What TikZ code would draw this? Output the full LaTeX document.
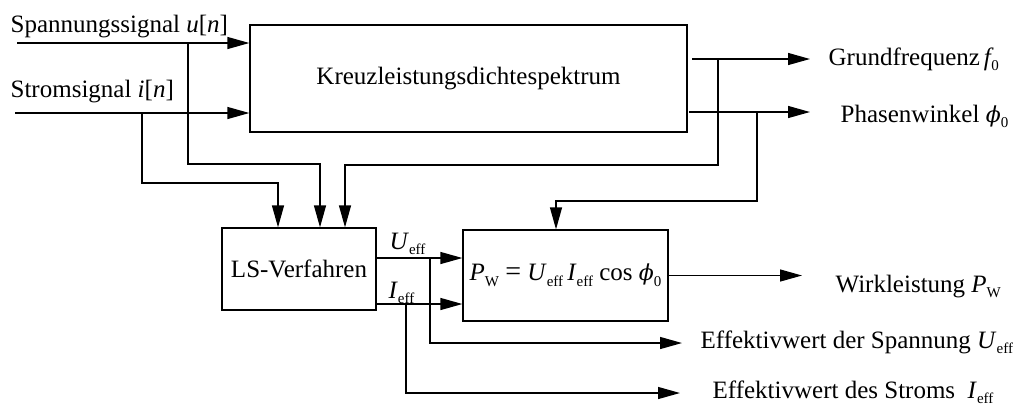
\documentclass[tikz,border=0pt]{standalone}
\usepackage{fontspec}
\setmainfont{Liberation Serif}
\newfontfamily\phifont{DejaVu Serif}
\usetikzlibrary{arrows.meta,calc}
\newcommand{\lsub}[1]{\raisebox{-0.5ex}{\fontsize{7.5}{8}\selectfont #1}}
\newcommand{\vphi}{{\phifont\itshape\fontsize{11}{13}\selectfont ϕ}}
\begin{document}
\begin{tikzpicture}[x=0.5pt,y=-0.5pt,
  line width=0.65pt,
  font=\fontsize{12.5}{15}\selectfont,
  box/.style={draw, line width=0.65pt, inner sep=0pt},
  arr/.style={-{Triangle[length=11pt,width=6pt]}},
  lbl/.style={anchor=base west, inner sep=0pt},
]
\useasboundingbox (0,0) rectangle (1021,409);

% blocks
\node[box, minimum width=218.5pt, minimum height=53.5pt] (kld) at (468.5,78.5) {Kreuzleistungsdichtespektrum};
\node[box, minimum width=77pt, minimum height=41pt] (ls) at (299,269) {LS-Verfahren};
\node[box, minimum width=102.5pt, minimum height=45.5pt] (pw) at (565.5,275.5)
  {\textit{P}\lsub{W} {\fontsize{14}{15}\selectfont =} \textit{U}\lsub{eff}\,\textit{I}\lsub{eff} cos \vphi\lsub{0}};

% inputs
\coordinate (u0) at (17,43);
\coordinate (i0) at (15,113);
\coordinate (ub) at (188,43);
\coordinate (ib) at (142,113);
\draw[arr] (u0) -- (u0 -| kld.west);
\draw[arr] (i0) -- (i0 -| kld.west);
\draw[arr] (ub) -- (188,164) -| ($(ls.north)+(21,0)$);
\draw[arr] (ib) -- (142,183) -| ($(ls.north)+(-21,0)$);

% outputs of spectrum block
\coordinate (f0s) at (692,59);
\coordinate (f0e) at (810,59);
\coordinate (p0s) at (689,112);
\coordinate (p0e) at (810,112);
\coordinate (fb) at (718,59);
\coordinate (pb) at (757,112);
\draw[arr] (f0s) -- (f0e);
\draw[arr] (p0s) -- (p0e);
\draw[arr] (fb) -- (718,165) -| ($(ls.north)+(46,0)$);
\draw[arr] (pb) -- (757,201) -| ($(pw.north)+(-9.5,0)$);

% LS outputs
\coordinate (ue) at (377,258);
\coordinate (ie) at (376,304);
\coordinate (ubr) at (430,258);
\coordinate (ibr) at (406,304);
\coordinate (uend) at (682,343);
\coordinate (iend) at (680,393);
\draw[arr] (ue) -- (ue -| pw.west);
\draw[arr] (ie) -- (ie -| pw.west);
\draw[arr] (ubr) |- (uend);
\draw[arr] (ibr) |- (iend);

% power output
\coordinate (pwe) at (802,275.5);
\draw[arr] (pw.east) -- (pwe);

% labels
\node[lbl] (tu) at (10,32) {Spannungssignal \textit{u}[\textit{n}]};
\node[lbl] (ti) at (10,97) {Stromsignal \textit{i}[\textit{n}]};
\node[lbl] (tf) at (828,65) {Grundfrequenz\kern2pt\textit{f}\kern-1.2pt\lsub{0}};
\node[lbl] (tp) at (840,122) {Phasenwinkel \vphi\lsub{0}};
\node[lbl] (tw) at (835,292) {Wirkleistung \textit{P}\lsub{W}};
\node[lbl] (tue) at (389,249) {\textit{U}\lsub{eff}};
\node[lbl] (tie) at (388,298) {\textit{I}\lsub{eff}};
\node[lbl] (tsu) at (700,348) {Effektivwert der Spannung \textit{U}\lsub{eff}};
\node[lbl] (tsi) at (712,398) {Effektivwert des Stroms\ \ \textit{I}\lsub{eff}};
\end{tikzpicture}
\end{document}
